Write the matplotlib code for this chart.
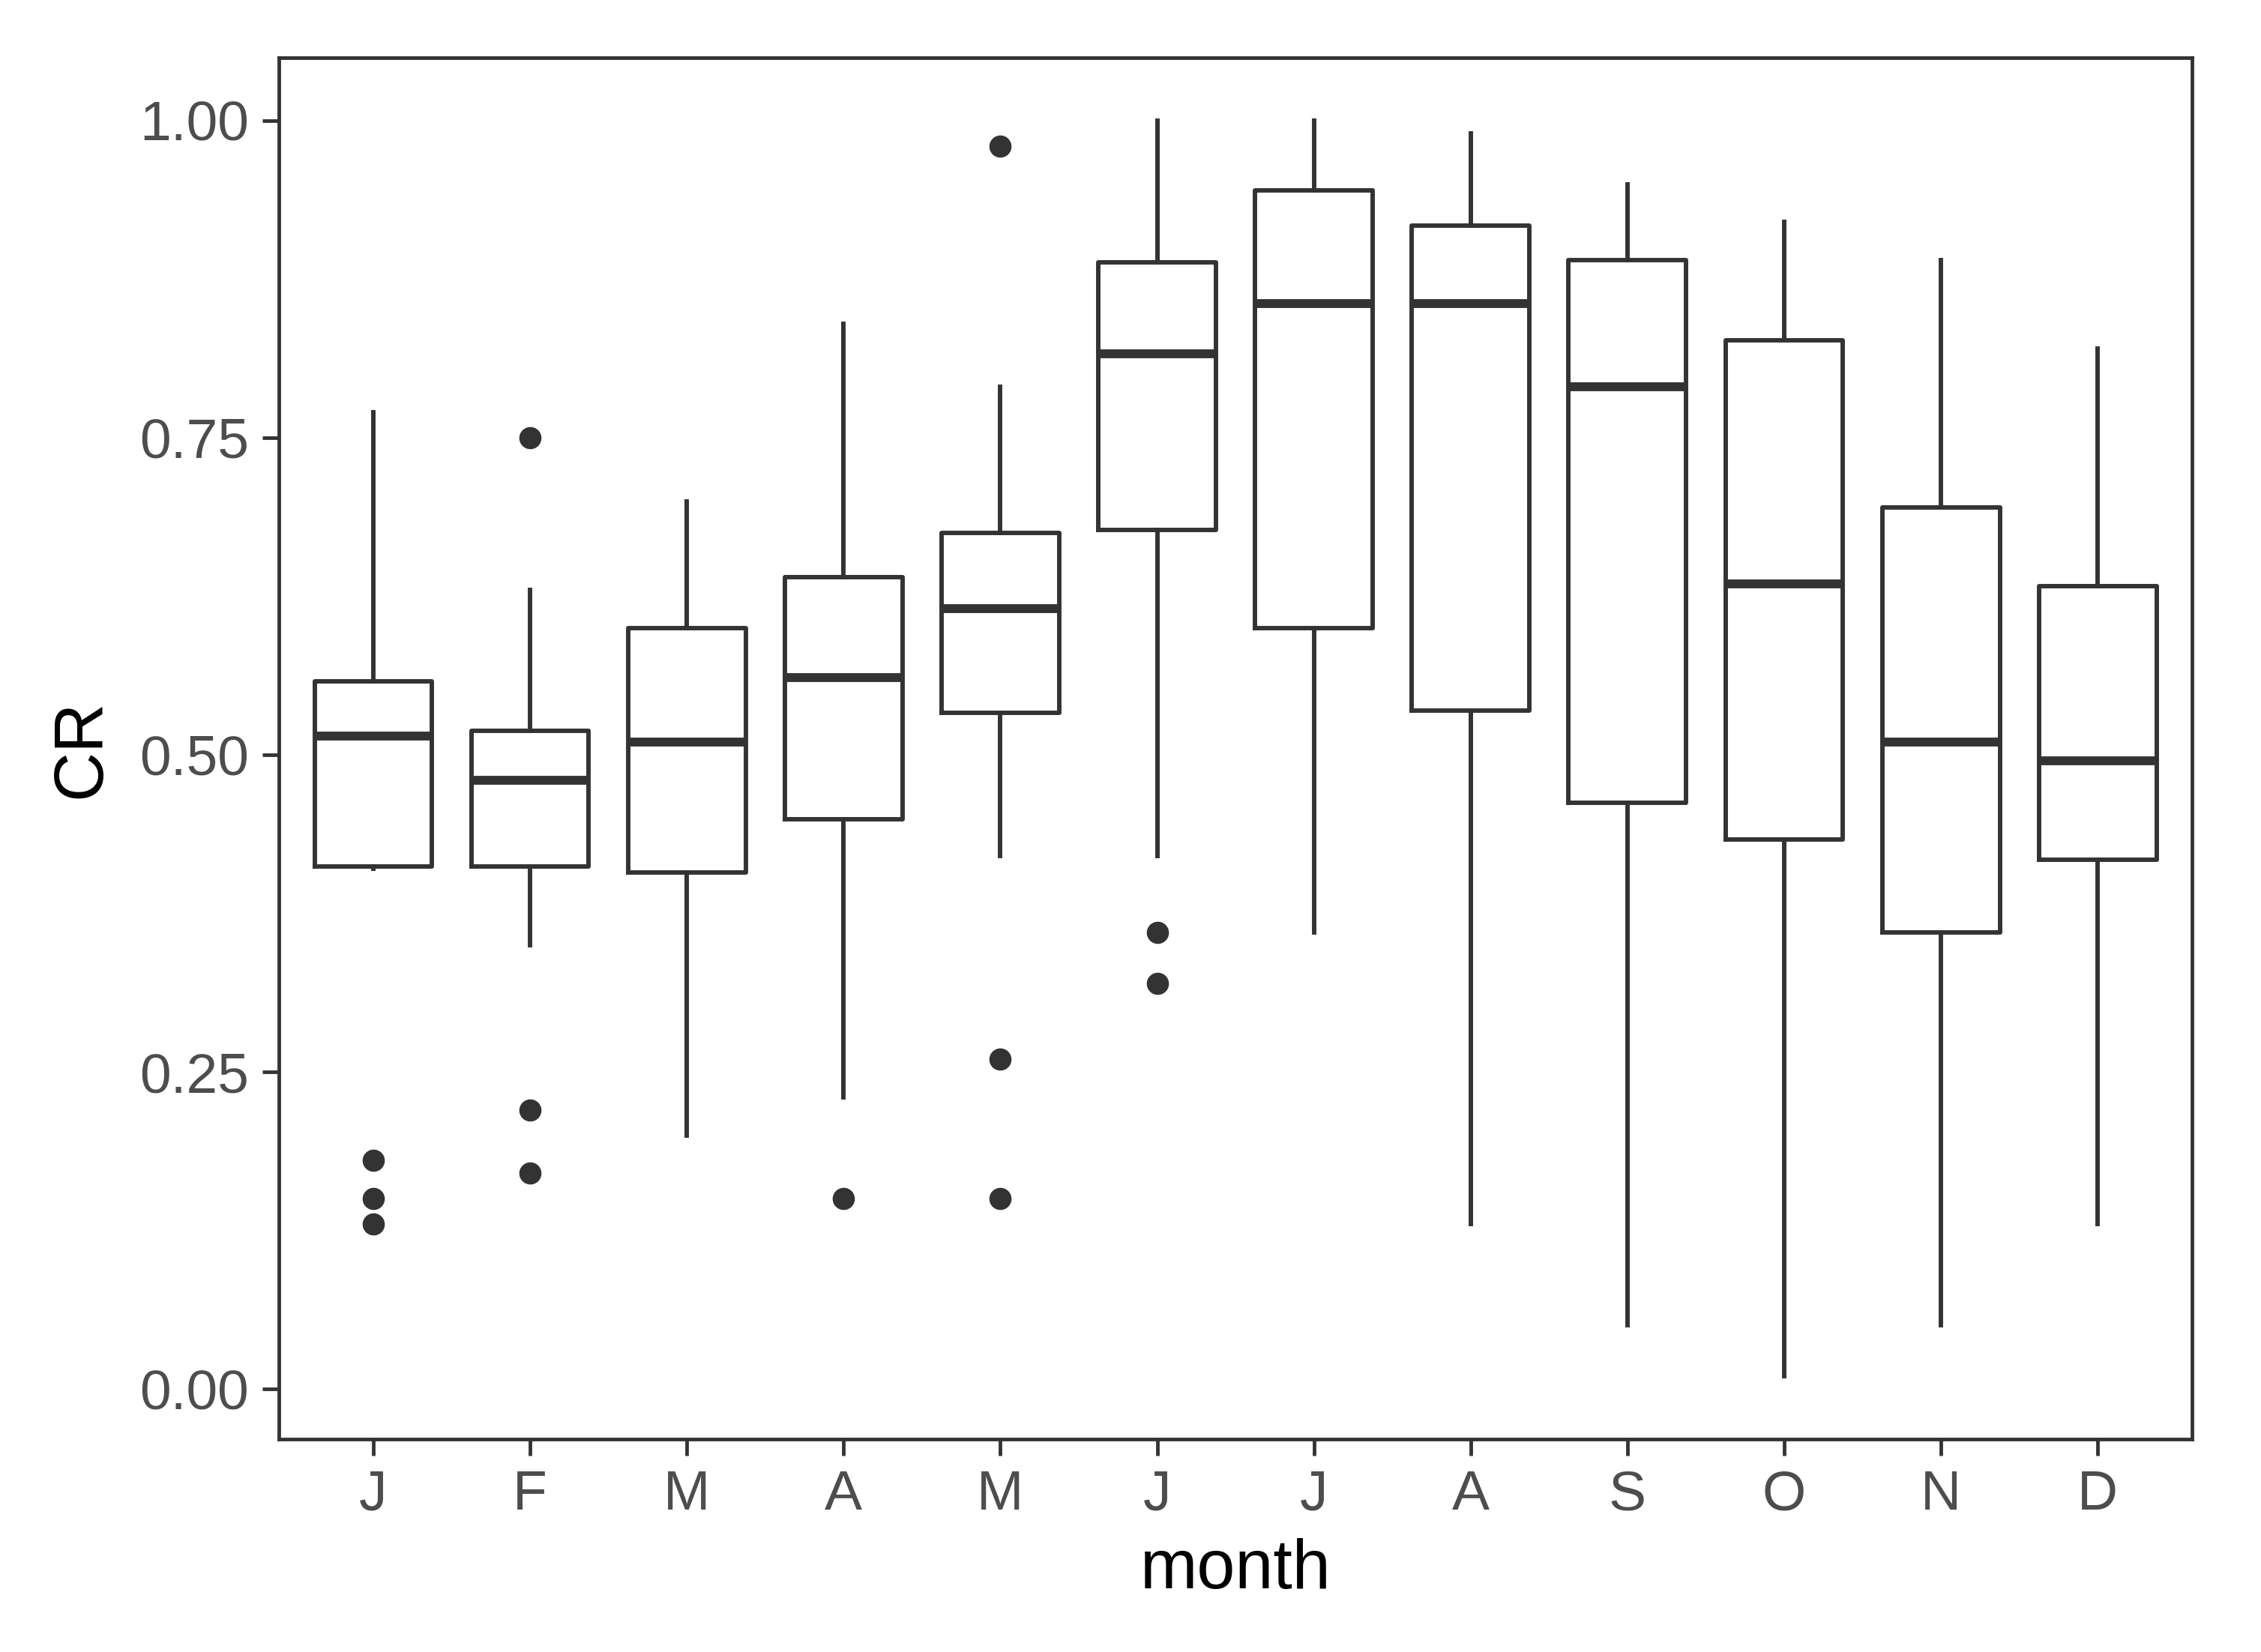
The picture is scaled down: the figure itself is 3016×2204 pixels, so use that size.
import numpy as np
import matplotlib
matplotlib.use("Agg")
import matplotlib.pyplot as plt

plt.rcParams['font.family'] = ['Liberation Sans', 'DejaVu Sans']

# monthly CR box statistics
months = ["J", "F", "M", "A", "M", "J", "J", "A", "S", "O", "N", "D"]
whisker_low = [0.41, 0.35, 0.20, 0.23, 0.42, 0.42, 0.36, 0.13, 0.05, 0.01, 0.05, 0.13]
q1 = [0.412, 0.412, 0.407, 0.449, 0.533, 0.677, 0.600, 0.535, 0.462, 0.433, 0.360, 0.417]
median = [0.515, 0.480, 0.510, 0.561, 0.615, 0.816, 0.856, 0.856, 0.790, 0.635, 0.510, 0.495]
q3 = [0.558, 0.519, 0.600, 0.640, 0.675, 0.888, 0.945, 0.917, 0.890, 0.827, 0.695, 0.633]
whisker_high = [0.77, 0.63, 0.70, 0.84, 0.79, 1.00, 1.00, 0.99, 0.95, 0.92, 0.89, 0.82]
outliers = [[0.18, 0.15, 0.13], [0.75, 0.22, 0.17], [], [0.15], [0.98, 0.26, 0.15],
            [0.36, 0.32], [], [], [], [], [], []]
y_ticks = [0.00, 0.25, 0.50, 0.75, 1.00]

stats = []
for i in range(len(months)):
    stats.append({"med": median[i], "q1": q1[i], "q3": q3[i],
                  "whislo": whisker_low[i], "whishi": whisker_high[i],
                  "fliers": outliers[i]})

line_col = "#333333"
fig = plt.figure(figsize=(3016 / 300, 2204 / 300), dpi=300)
ax = fig.add_axes([0.1235, 0.1289, 0.9694 - 0.1235, 0.965 - 0.1289])

ax.bxp(stats, positions=np.arange(1, 13), widths=0.75, showcaps=False,
       boxprops=dict(color=line_col, linewidth=1.42),
       whiskerprops=dict(color=line_col, linewidth=1.42),
       medianprops=dict(color=line_col, linewidth=2.84, solid_capstyle="butt"),
       flierprops=dict(marker="o", markersize=6.1, markerfacecolor=line_col,
                       markeredgecolor=line_col, linestyle="none"))

ax.set_xlim(0.4, 12.6)
ax.set_ylim(-0.0395, 1.0495)
ax.set_xticks(np.arange(1, 13))
ax.set_xticklabels(months)
ax.set_yticks(y_ticks)
ax.set_yticklabels(["%.2f" % v for v in y_ticks])

for s in ax.spines.values():
    s.set_color(line_col)
    s.set_linewidth(1.15)
ax.tick_params(axis="both", colors=line_col, labelcolor="#4D4D4D", labelsize=18,
               length=5.3, width=1.15, pad=4.4)
ax.set_xlabel("month", fontsize=22, color="black", labelpad=5.5)
ax.set_ylabel("CR", fontsize=22, color="black", labelpad=8)

fig.savefig("out.png", dpi=300, facecolor="white")
